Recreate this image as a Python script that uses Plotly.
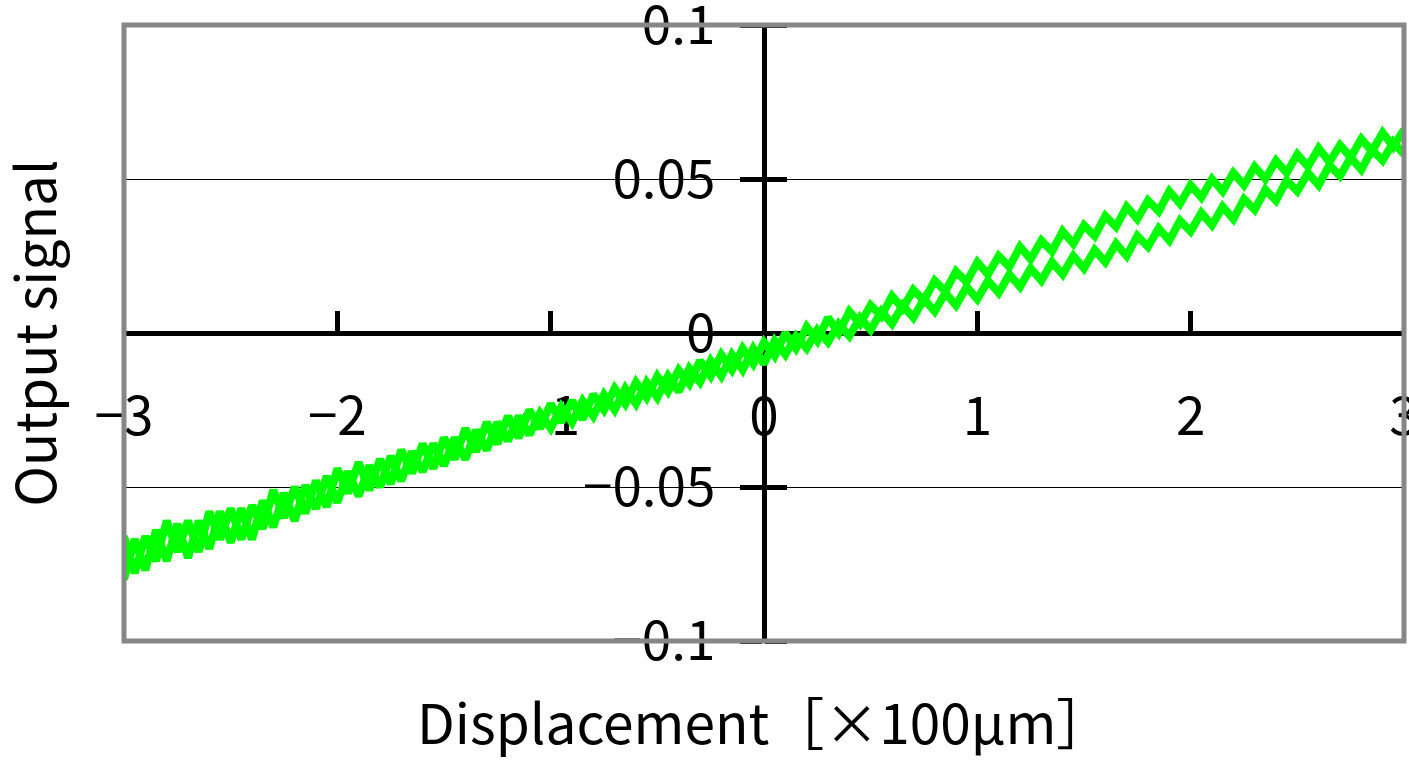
import plotly.graph_objects as go

# Displacement [x100 um], step 0.05
disp = [round(-3 + 0.05 * i, 2) for i in range(121)]

# upper branch of the hysteresis loop (incl. noise)
branch_upper = [
    -0.066, -0.078, -0.066, -0.074, -0.061, -0.071, -0.061, -0.071, -0.058, -0.067,
    -0.057, -0.067, -0.056, -0.0635, -0.051, -0.060, -0.050, -0.0585, -0.048, -0.0565,
    -0.044, -0.052, -0.042, -0.051, -0.041, -0.049, -0.038, -0.0455, -0.036, -0.044,
    -0.034, -0.041, -0.031, -0.0385, -0.029, -0.036, -0.027, -0.034, -0.025, -0.031,
    -0.023, -0.029, -0.022, -0.028, -0.020, -0.025, -0.018, -0.023, -0.016, -0.021,
    -0.014, -0.019, -0.012, -0.0165, -0.009, -0.014, -0.007, -0.012, -0.005, -0.010,
    -0.003, -0.0075, 0.000, -0.005, 0.002, -0.0025, 0.005, 0.000, 0.007, 0.003,
    0.009, 0.0055, 0.012, 0.008, 0.014, 0.0105, 0.017, 0.0135, 0.020, 0.0165,
    0.023, 0.019, 0.025, 0.0215, 0.028, 0.024, 0.030, 0.0265, 0.033, 0.029,
    0.035, 0.0315, 0.038, 0.0345, 0.041, 0.037, 0.043, 0.0395, 0.046, 0.042,
    0.048, 0.044, 0.050, 0.046, 0.052, 0.048, 0.054, 0.050, 0.056, 0.052,
    0.058, 0.054, 0.060, 0.0555, 0.061, 0.057, 0.063, 0.059, 0.065, 0.0605,
    0.066,
]

# lower branch of the hysteresis loop
branch_lower = [
    -0.080, -0.067, -0.077, -0.064, -0.074, -0.062, -0.073, -0.061, -0.070, -0.058,
    -0.068, -0.057, -0.067, -0.0545, -0.063, -0.052, -0.061, -0.0495, -0.057, -0.0465,
    -0.055, -0.045, -0.053, -0.043, -0.050, -0.040, -0.048, -0.0385, -0.045, -0.036,
    -0.043, -0.034, -0.041, -0.0315, -0.038, -0.029, -0.035, -0.027, -0.033, -0.026,
    -0.031, -0.024, -0.029, -0.022, -0.027, -0.020, -0.025, -0.018, -0.023, -0.016,
    -0.021, -0.014, -0.019, -0.0115, -0.016, -0.009, -0.014, -0.007, -0.012, -0.005,
    -0.010, -0.0025, -0.007, -0.001, -0.005, 0.001, -0.003, 0.003, -0.001, 0.005,
    0.001, 0.007, 0.003, 0.009, 0.005, 0.011, 0.007, 0.013, 0.009, 0.015,
    0.011, 0.017, 0.013, 0.019, 0.015, 0.021, 0.017, 0.023, 0.019, 0.025,
    0.021, 0.027, 0.023, 0.029, 0.025, 0.0315, 0.028, 0.034, 0.030, 0.0365,
    0.033, 0.039, 0.035, 0.041, 0.037, 0.0435, 0.040, 0.0465, 0.043, 0.0495,
    0.046, 0.052, 0.048, 0.0545, 0.051, 0.057, 0.053, 0.0595, 0.056, 0.062,
    0.058,
]

x_tickvals = [-3, -2, -1, 0, 1, 2, 3]
x_ticktext = ["−3", "−2", "−1", "0", "1", "2", "3"]
y_tickvals = [-0.1, -0.05, 0, 0.05, 0.1]
y_ticktext = ["−0.1", "−0.05", "0", "0.05", "0.1"]

x_title = "Displacement［×100μm］"
y_title = "Output signal"

FONT = "Noto Sans CJK JP, sans-serif"
GREEN = "#00FF00"

fig = go.Figure()
fig.add_trace(go.Scatter(x=disp, y=branch_lower, mode="lines", xaxis="x", yaxis="y",
                         line=dict(color=GREEN, width=8), showlegend=False))
fig.add_trace(go.Scatter(x=disp, y=branch_upper, mode="lines", xaxis="x", yaxis="y2",
                         line=dict(color=GREEN, width=8), showlegend=False))

fig.update_layout(
    width=1409, height=764,
    margin=dict(l=123.5, r=5, t=24.5, b=123, autoexpand=False),
    paper_bgcolor="white", plot_bgcolor="white",
    font=dict(family=FONT, color="black"),
    showlegend=False,
    xaxis=dict(
        range=[-3, 3], anchor="free", position=0.5, automargin=False,
        tickvals=x_tickvals, ticktext=x_ticktext,
        ticks="inside", ticklen=20, tickwidth=5, tickcolor="black",
        showline=True, linecolor="black", linewidth=5,
        showgrid=False, zeroline=False,
        tickfont=dict(family=FONT, size=53, color="black"),
        ticklabelstandoff=35, ticklabeloverflow="allow",
        layer="below traces",
    ),
    yaxis=dict(
        range=[-0.1, 0.1], anchor="free", position=0.5, automargin=False,
        tickvals=y_tickvals, ticktext=y_ticktext,
        ticks="outside", ticklen=22, tickwidth=5, tickcolor="black",
        showline=True, linecolor="black", linewidth=5,
        showgrid=True, gridcolor="black", gridwidth=1, zeroline=False,
        tickfont=dict(family=FONT, size=53, color="black"),
        ticklabelstandoff=14, ticklabeloverflow="allow",
        layer="below traces",
    ),
    yaxis2=dict(
        range=[-0.1, 0.1], overlaying="y", anchor="free", position=0.5, side="right",
        automargin=False,
        tickvals=y_tickvals, ticks="outside", ticklen=22, tickwidth=5, tickcolor="black",
        showticklabels=False, showline=False, showgrid=False, zeroline=False,
        layer="below traces",
    ),
    annotations=[
        dict(text=x_title, xref="paper", yref="paper", x=0.5, y=-0.128,
             xanchor="center", yanchor="middle", showarrow=False,
             font=dict(family=FONT, size=55, color="black")),
        dict(text=y_title, xref="paper", yref="paper", x=-0.072, y=0.5,
             xanchor="center", yanchor="middle", textangle=-90, showarrow=False,
             font=dict(family=FONT, size=55, color="black")),
    ],
    shapes=[dict(type="rect", xref="paper", yref="paper", x0=0, x1=1, y0=0, y1=1,
                 line=dict(color="#878787", width=5), layer="above")],
)

fig.write_html("out.html", config={"displayModeBar": False},
               post_script="document.body.style.margin='0px';")
